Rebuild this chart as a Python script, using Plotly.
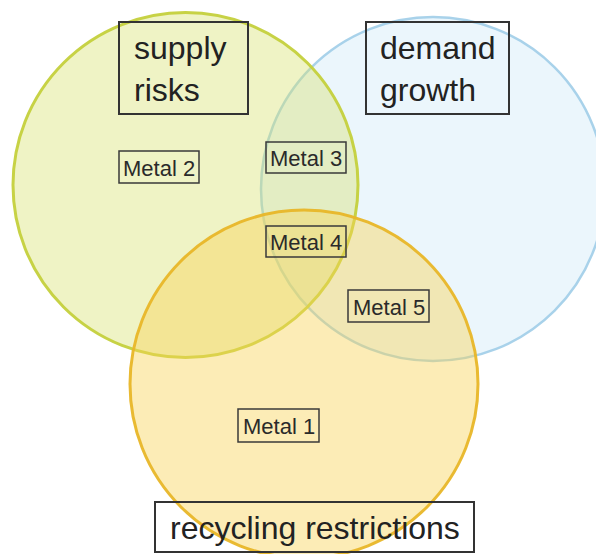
import plotly.graph_objects as go

# ---- data ----
set_names = ["supply<br>risks", "demand<br>growth", "recycling restrictions"]
members = ["Metal 1", "Metal 2", "Metal 3", "Metal 4", "Metal 5"]
member_sets = ["recycling", "supply", "supply+demand", "all three", "demand+recycling"]

W, H = 596, 554

# circle geometry (pixel space)
circles = [
    # (cx, cy, r, fill, line, linewidth)
    (433, 189, 172, "rgba(195,228,245,0.33)", "rgba(160,205,232,0.9)", 2.5),
    (185.5, 185, 172.5, "rgba(214,224,110,0.40)", "rgba(196,208,60,0.95)", 3),
    (304, 384, 174, "rgba(247,212,85,0.43)", "rgba(232,182,40,0.95)", 3),
]

big_boxes = [
    (119, 22, 248, 114),
    (366, 22, 509, 114),
    (155, 502, 474, 552),
]
big_text_pos = [(132, 69, "left"), (378, 69, "left"), (315, 528, "center")]

small_boxes = [
    (238, 409, 319, 442),
    (119, 151, 199, 183),
    (266, 142, 346, 173),
    (266, 226, 346, 257),
    (348, 290, 429, 322),
]

fig = go.Figure()
shapes = []
for cx, cy, r, fc, lc, lw in circles:
    shapes.append(dict(type="circle", xref="x", yref="y",
                       x0=cx - r, x1=cx + r, y0=cy - r, y1=cy + r,
                       fillcolor=fc, line=dict(color=lc, width=lw), layer="above"))
for (x0, y0, x1, y1) in big_boxes:
    shapes.append(dict(type="rect", xref="x", yref="y", x0=x0, x1=x1, y0=y0, y1=y1,
                       line=dict(color="#333333", width=2), fillcolor="rgba(0,0,0,0)", layer="above"))
for (x0, y0, x1, y1) in small_boxes:
    shapes.append(dict(type="rect", xref="x", yref="y", x0=x0, x1=x1, y0=y0, y1=y1,
                       line=dict(color="#3a3a3a", width=1.5), fillcolor="rgba(0,0,0,0)", layer="above"))

annotations = []
for name, (x, y, al) in zip(set_names, big_text_pos):
    annotations.append(dict(x=x, y=y, xref="x", yref="y", text=name, showarrow=False,
                            xanchor=al, yanchor="middle", align=al,
                            font=dict(family="Liberation Sans, Arial", size=32, color="#222222")))
for m, (x0, y0, x1, y1) in zip(members, small_boxes):
    annotations.append(dict(x=(x0 + x1) / 2, y=(y0 + y1) / 2 + 1, xref="x", yref="y", text=m,
                            showarrow=False, xanchor="center", yanchor="middle",
                            font=dict(family="Liberation Sans, Arial", size=22, color="#2a2a2a")))

fig.update_layout(
    width=W, height=H, margin=dict(l=0, r=0, t=0, b=0),
    paper_bgcolor="white", plot_bgcolor="white",
    xaxis=dict(range=[0, W], visible=False, fixedrange=True),
    yaxis=dict(range=[H, 0], visible=False, fixedrange=True),
    shapes=shapes, annotations=annotations, showlegend=False,
)
fig.write_html("out.html", config={"displayModeBar": False},
               post_script="document.body.style.margin='0';document.body.style.overflow='hidden';")
